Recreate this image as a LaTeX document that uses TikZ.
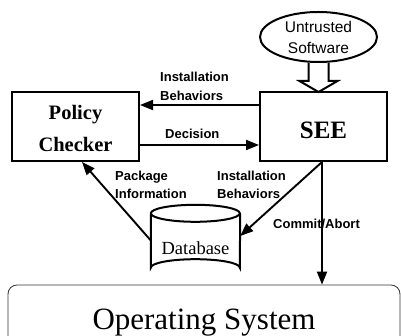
\documentclass[tikz,border=0pt]{standalone}
\usepackage{fontspec}
\setmainfont{Liberation Serif}
\setsansfont{Liberation Sans}
\usetikzlibrary{arrows.meta,shapes.geometric}

\tikzset{
  box/.style={draw, line width=2pt, rectangle, inner sep=0pt,
    minimum width=127pt, minimum height=69pt, align=center},
  lbl/.style={font=\sffamily\bfseries\fontsize{13}{18.5}\selectfont, align=left, inner sep=0pt},
  flow/.style={line width=1.9pt, -{Triangle[length=13pt,width=10pt]}},
}

\begin{document}
\begin{tikzpicture}[x=1pt, y=-1pt]
\clip (0,0) rectangle (401,336);
\fill[white] (0,0) rectangle (401,336);

% main components
\node[box, text height=51pt, text depth=0pt, font=\bfseries\fontsize{20.5}{32}\selectfont] (pc) at (75.5,126.5) {Policy\\Checker};
\node[box, text height=25pt, text depth=0pt, font=\bfseries\fontsize{25}{30}\selectfont] (see) at (323.5,126.5) {SEE};

% untrusted input
\node[draw, ellipse, line width=2pt, inner sep=0pt, minimum width=117pt, minimum height=50pt,
      align=center, font=\sffamily\fontsize{15.5}{21}\selectfont] (sw) at (318.5,37) {Untrusted\\Software};

% hollow arrow from the software into SEE
\draw[line width=2pt, line join=miter]
  ([xshift=-10pt]sw.south) -- ++(0,18) -- ++(-9,0) -- ++(19,11) -- ++(19,-11) -- ++(-9,0)
  -- ([xshift=10pt]sw.south);

% database cylinder
\node[minimum width=89pt, minimum height=71pt, inner sep=0pt, text height=29pt, text depth=0pt,
      font=\fontsize{18.5}{20}\selectfont] (db) at (195.5,240.5) {Database};
\draw[line width=2pt]
  (db.north west) ++(0,8.5) arc[start angle=180, end angle=-180, x radius=44.5pt, y radius=8.5pt]
  (db.north west) ++(0,8.5) -- ([yshift=8.5pt]db.south west)
  arc[start angle=180, end angle=360, x radius=44.5pt, y radius=-8.5pt]
  -- ([yshift=-8.5pt]db.north east);

% operating system
\node[draw=black!80, line width=0.8pt, rounded corners=9pt, minimum width=392pt, minimum height=75pt,
      inner sep=0pt, font=\fontsize{31}{34}\selectfont] (os) at (204,322.5) {Operating System};

% connectors
\draw[flow] ([yshift=21.5pt]see.west) -- ([yshift=21.5pt]pc.east);
\draw[flow] ([yshift=-18.5pt]pc.east) -- ([yshift=-18.5pt]see.west);
\draw[flow] (db.west) -- ([xshift=6.5pt]pc.south);
\draw[flow] ([xshift=-1.5pt]see.south) -- ([yshift=4.5pt]db.east);
\draw[flow] ([xshift=-1.5pt]see.south) -- ([xshift=-1.5pt]see.south |- os.north);

% connector labels (anchored at the baseline of the last line)
\node[lbl, anchor=base west] (l1) at (160,100.5) {Installation\\Behaviors};
\node[lbl, anchor=base west] (l2) at (165,139) {Decision};
\node[lbl, anchor=base west] (l3) at (115,199) {Package\\Information};
\node[lbl, anchor=base west] (l4) at (217,199) {Installation\\Behaviors};
\node[lbl, anchor=base west] (l5) at (273,229) {Commit/Abort};
\end{tikzpicture}
\end{document}
